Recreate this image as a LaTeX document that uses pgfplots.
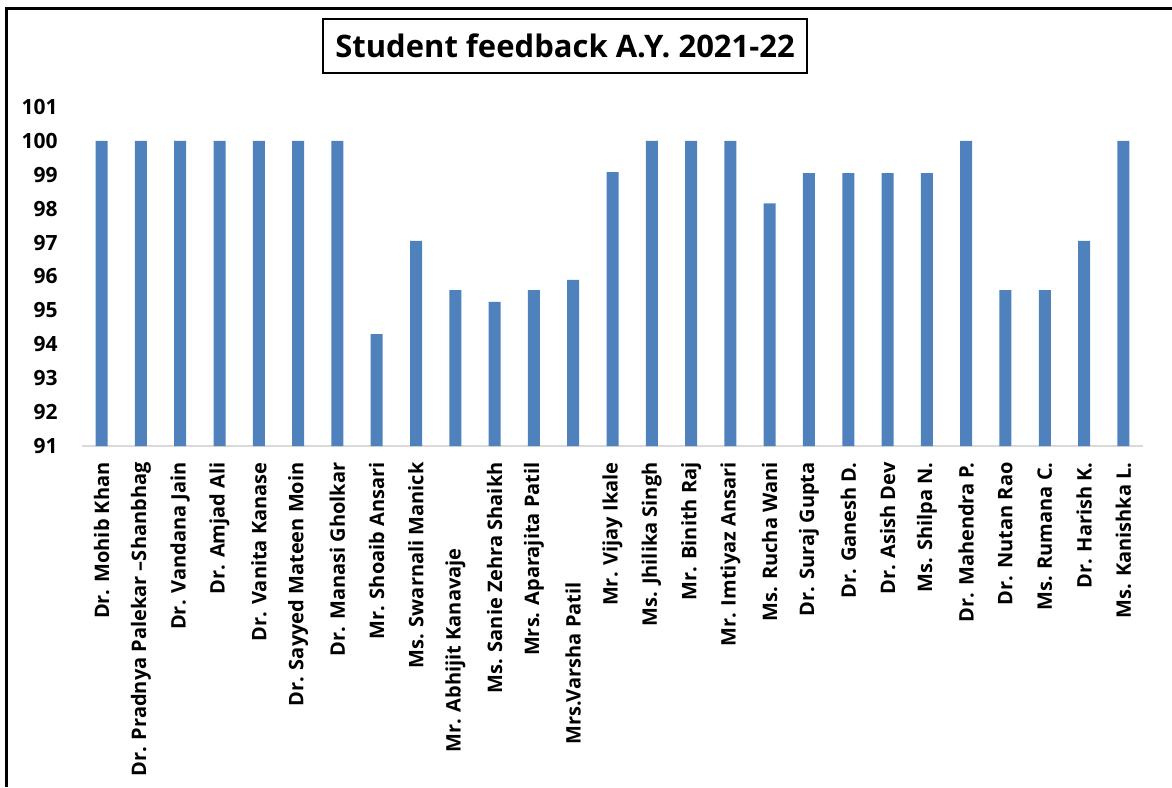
\documentclass[border=0pt]{standalone}
\usepackage{fontspec}
\setmainfont{Open Sans}
\usepackage{pgfplots}
\pgfplotsset{compat=1.18}
\definecolor{barblue}{HTML}{4F81BD}
\definecolor{axisgray}{HTML}{D9D9D9}

\begin{document}
\begin{tikzpicture}
% page: 1172 x 787 px at 0.5pt per px, origin at top left
\useasboundingbox (0,0) rectangle (586pt,-393.5pt);
\draw[line width=1.5pt] (3pt,-393.5pt) -- (3pt,-4pt) -- (586pt,-4pt);

\node[draw, line width=1pt, minimum width=242pt, minimum height=27pt, inner sep=2pt,
      font=\fontsize{15.5}{17}\selectfont\bfseries] at (282.5pt,-23pt)
      {Student feedback A.Y. 2021-22};

\begin{axis}[
    at={(41pt,-223pt)}, anchor=south west,
    scale only axis,
    width=530.5pt, height=169.5pt,
    xmin=-0.5, xmax=26.5,
    ymin=91, ymax=101,
    ytick={91,92,...,101},
    xtick=data,
    xticklabels={{Dr. Mohib Khan},{Dr. Pradnya Palekar –Shanbhag},{Dr. Vandana Jain},{Dr. Amjad Ali},{Dr. Vanita Kanase},{Dr. Sayyed Mateen Moin},{Dr. Manasi Gholkar},{Mr. Shoaib Ansari},{Ms. Swarnali Manick},{Mr. Abhijit Kanavaje\hspace*{43pt}},{Ms. Sanie Zehra Shaikh},{Mrs. Aparajita Patil},{Mrs.Varsha Patil\hspace*{60pt}},{Mr. Vijay Ikale},{Ms. Jhilika Singh},{Mr. Binith Raj},{Mr. Imtiyaz Ansari},{Ms. Rucha Wani},{Dr. Suraj Gupta},{Dr. Ganesh D.},{Dr. Asish Dev},{Ms. Shilpa N.},{Dr. Mahendra P.},{Dr. Nutan Rao},{Ms. Rumana C.},{Dr. Harish K.},{Ms. Kanishka L.}},
    axis lines*=left,
    y axis line style={draw=none},
    x axis line style={draw=axisgray, line width=1pt},
    major tick length=0pt,
    tick style={draw=none},
    xticklabel style={rotate=90, anchor=east, inner sep=0pt, font=\fontsize{10}{12}\selectfont\bfseries},
    yticklabel style={anchor=east, inner sep=0pt, font=\fontsize{10.5}{12}\selectfont\bfseries},
    xticklabel shift=8pt,
    yticklabel shift=12pt,
    /pgf/number format/assume math mode=true,
]
\addplot[ybar, bar width=6pt, fill=barblue, draw=none] coordinates {
    (0,100) (1,100) (2,100) (3,100) (4,100) (5,100) (6,100)
    (7,94.3) (8,97.05) (9,95.6) (10,95.25) (11,95.6) (12,95.9)
    (13,99.08) (14,100) (15,100) (16,100) (17,98.16)
    (18,99.05) (19,99.05) (20,99.05) (21,99.05) (22,100)
    (23,95.6) (24,95.6) (25,97.05) (26,100)
};
\end{axis}
\end{tikzpicture}
\end{document}
